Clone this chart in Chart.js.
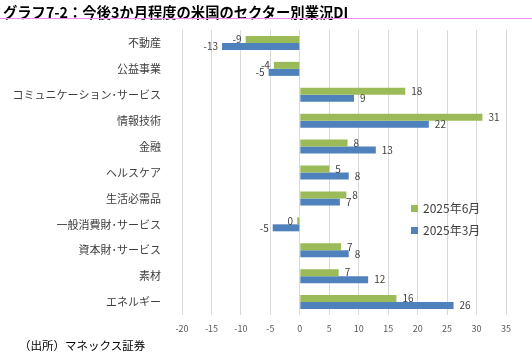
<!DOCTYPE html>
<html>
<head>
<meta charset="utf-8">
<script src="https://cdn.jsdelivr.net/npm/chart.js@4"></script>
<style>
  body { margin: 0; background: #fff; }
  #wrap { position: relative; width: 532px; height: 362px; }
  #title { position: absolute; left: 3px; top: 1px; font: bold 14.3px "Noto Sans CJK JP"; color: #000; white-space: nowrap; }
  #rule { position: absolute; left: 0; top: 18px; width: 532px; height: 1px; background: #f08cf0; }
  #source { position: absolute; left: 19px; top: 337px; font: 11.5px "Noto Sans CJK JP"; color: #000; white-space: nowrap; }
  canvas { position: absolute; left: 0; top: 0; }
</style>
</head>
<body>
<div id="wrap">
  <canvas id="chart" width="532" height="362"></canvas>
  <div id="title">グラフ7-2：今後3か月程度の米国のセクター別業況DI</div>
  <div id="rule"></div>
  <div id="source">（出所）マネックス証券</div>
</div>
<script>
const sectors = ['不動産', '公益事業', 'コミュニケーション･サービス', '情報技術', '金融', 'ヘルスケア',
                 '生活必需品', '一般消費財･サービス', '資本財･サービス', '素材', 'エネルギー'];
const june2025 = [-9.2, -4.4, 17.9, 31.0, 8.1, 5.0, 7.9, -0.45, 7.0, 6.6, 16.4];
const march2025 = [-13.2, -5.3, 9.2, 21.9, 12.9, 8.3, 6.8, -4.6, 8.3, 11.6, 26.1];
const xTicks = [-20, -15, -10, -5, 0, 5, 10, 15, 20, 25, 30, 35];

const jpFont = '"Noto Sans CJK JP"';

// value labels at bar ends
const barLabels = {
    id: 'barLabels',
    afterDatasetsDraw(chart) {
        const ctx = chart.ctx;
        ctx.save();
        ctx.font = '10px ' + jpFont;
        ctx.fillStyle = '#404040';
        ctx.textBaseline = 'middle';
        chart.data.datasets.forEach((ds, i) => {
            chart.getDatasetMeta(i).data.forEach((bar, j) => {
                const v = ds.data[j];
                const txt = String(Math.round(v) === 0 ? 0 : Math.round(v));
                if (v >= 0) {
                    ctx.textAlign = 'left';
                    ctx.fillText(txt, bar.x + 6, bar.y);
                } else {
                    ctx.textAlign = 'right';
                    ctx.fillText(txt, bar.x - 4, bar.y);
                }
            });
        });
        ctx.restore();
    }
};

// legend inside the plot, lower right
const innerLegend = {
    id: 'innerLegend',
    afterDraw(chart) {
        const ctx = chart.ctx;
        ctx.save();
        ctx.font = '12px ' + jpFont;
        ctx.textBaseline = 'middle';
        ctx.textAlign = 'left';
        chart.data.datasets.forEach((ds, i) => {
            const y = 208 + i * 22;
            ctx.fillStyle = ds.backgroundColor;
            ctx.fillRect(411, y - 3, 7, 7);
            ctx.fillStyle = '#404040';
            ctx.fillText(ds.label, 423, y);
        });
        ctx.restore();
    }
};

new Chart(document.getElementById('chart'), {
    type: 'bar',
    data: {
        labels: sectors,
        datasets: [
            { label: '2025年6月', data: june2025, backgroundColor: '#9BBB59' },
            { label: '2025年3月', data: march2025, backgroundColor: '#4F81BD' }
        ]
    },
    options: {
        indexAxis: 'y',
        responsive: false,
        animation: false,
        layout: { padding: { top: 30, right: 26, bottom: 27, left: 0 } },
        datasets: { bar: { categoryPercentage: 0.54, barPercentage: 1.0 } },
        plugins: { legend: { display: false }, tooltip: { enabled: false } },
        scales: {
            x: {
                min: -20,
                max: 35,
                afterBuildTicks: s => { s.ticks = xTicks.map(v => ({ value: v })); },
                afterFit: s => { s.height = 20; },
                grid: { color: '#d9d9d9', drawTicks: false },
                border: { display: false },
                ticks: { font: { size: 9, family: jpFont }, color: '#595959', padding: 8 }
            },
            y: {
                afterFit: s => { s.width = 182; },
                grid: { display: false },
                border: { display: false },
                ticks: { font: { size: 11, family: jpFont }, color: '#404040', padding: 13 }
            }
        }
    },
    plugins: [barLabels, innerLegend]
});
</script>
</body>
</html>
